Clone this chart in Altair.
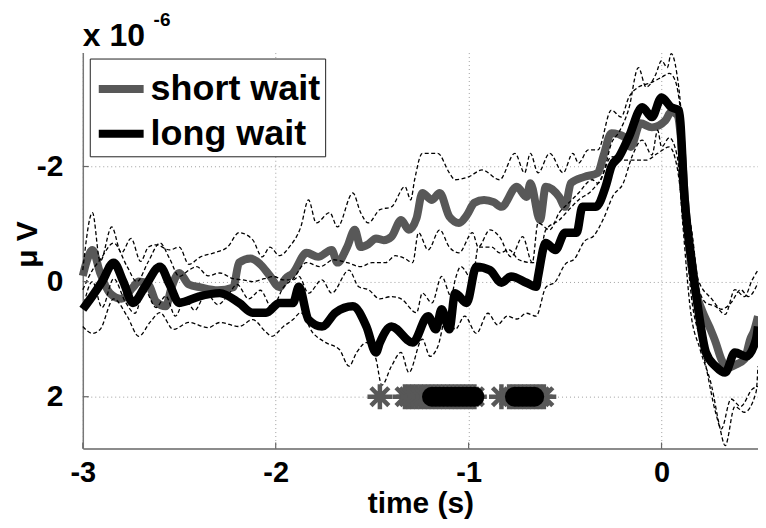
import altair as alt
import pandas as pd

# ---- data (time in s, amplitude in 1e-6 V) ----
SHORT_MEAN = [(-3.00,-0.1),(-2.98,-0.35),(-2.95,-0.55),(-2.91,-0.15),(-2.86,0.2),(-2.80,0.3),(-2.74,0.1),
    (-2.71,0.0),(-2.66,0.05),(-2.62,0.35),(-2.57,0.43),(-2.54,0.1),(-2.50,-0.15),(-2.45,0.05),(-2.39,0.1),
    (-2.30,0.15),(-2.22,0.1),(-2.19,-0.33),(-2.13,-0.4),(-2.08,-0.3),(-2.03,-0.1),(-1.98,0.1),(-1.95,-0.05),
    (-1.91,-0.15),(-1.84,-0.5),(-1.78,-0.43),(-1.71,-0.55),(-1.68,-0.33),(-1.63,-0.6),(-1.59,-0.9),(-1.56,-0.6),
    (-1.52,-0.65),(-1.48,-0.75),(-1.44,-0.72),(-1.40,-0.78),(-1.35,-1.07),(-1.31,-0.9),(-1.27,-1.1),(-1.24,-1.54),
    (-1.19,-1.42),(-1.15,-1.54),(-1.10,-1.13),(-1.05,-1.02),(-1.01,-1.15),(-0.97,-1.37),(-0.92,-1.42),(-0.87,-1.38),
    (-0.83,-1.3),(-0.75,-1.65),(-0.70,-1.47),(-0.68,-1.71),(-0.63,-1.07),(-0.60,-1.65),(-0.53,-1.47),(-0.50,-1.3),
    (-0.47,-1.71),(-0.40,-1.82),(-0.33,-1.89),(-0.30,-2.2),(-0.26,-2.58),(-0.19,-2.51),(-0.16,-2.34),(-0.11,-2.75),
    (-0.05,-2.68),(0.02,-2.8),(0.05,-2.95),(0.08,-2.9),(0.10,-2.5),(0.12,-1.5),(0.15,-0.4),(0.18,0.2),(0.21,0.5),
    (0.25,0.8),(0.28,1.05),(0.31,1.35),(0.34,1.5),(0.38,1.45),(0.43,1.35),(0.46,1.0),(0.48,0.85),(0.50,0.6)]

LONG_MEAN = [(-3.00,0.48),(-2.95,0.25),(-2.90,0.0),(-2.84,-0.33),(-2.79,0.0),(-2.74,0.37),(-2.68,0.1),
    (-2.60,-0.26),(-2.55,0.05),(-2.50,0.37),(-2.40,0.26),(-2.29,0.2),(-2.19,0.37),(-2.12,0.54),(-2.05,0.54),
    (-1.98,0.37),(-1.91,0.37),(-1.88,0.09),(-1.83,0.66),(-1.76,0.78),(-1.69,0.54),(-1.60,0.43),(-1.53,0.78),
    (-1.48,1.23),(-1.46,1.06),(-1.40,0.78),(-1.29,1.06),(-1.21,0.6),(-1.17,0.83),(-1.14,0.48),(-1.10,0.83),
    (-1.07,0.2),(-1.01,0.37),(-0.96,-0.26),(-0.89,-0.2),(-0.83,0.02),(-0.78,-0.09),(-0.70,0.02),(-0.65,0.09),
    (-0.64,-0.09),(-0.60,-0.67),(-0.55,-0.55),(-0.50,-0.85),(-0.44,-0.85),(-0.41,-1.3),(-0.34,-1.3),(-0.29,-1.65),
    (-0.26,-2.0),(-0.22,-2.17),(-0.17,-2.51),(-0.10,-3.03),(-0.05,-2.86),(0.00,-3.2),(0.05,-3.03),(0.09,-2.98),
    (0.12,-1.42),(0.16,-0.26),(0.19,0.48),(0.23,1.23),(0.28,1.47),(0.33,1.58),(0.38,1.23),(0.44,1.3),(0.49,1.0),
    (0.50,0.78)]

SHORT_UPPER = [(-3.00,-0.2),(-2.95,-1.2),(-2.91,-0.35),(-2.85,-0.95),(-2.80,-0.5),(-2.75,-0.75),(-2.70,-0.35),
    (-2.66,-0.6),(-2.62,-0.64),(-2.55,-0.55),(-2.50,-0.6),(-2.45,-0.3),(-2.39,-0.43),(-2.32,-0.5),(-2.25,-0.6),
    (-2.19,-0.85),(-2.12,-0.73),(-2.07,-0.43),(-2.03,-0.6),(-1.98,-0.45),(-1.93,-0.6),(-1.87,-0.95),(-1.83,-1.42),
    (-1.79,-1.02),(-1.72,-1.2),(-1.68,-0.95),(-1.60,-1.54),(-1.56,-1.2),(-1.52,-1.02),(-1.46,-1.25),(-1.40,-1.3),
    (-1.33,-1.65),(-1.30,-1.42),(-1.28,-1.77),(-1.24,-2.23),(-1.16,-2.23),(-1.10,-1.89),(-1.07,-1.77),(-1.00,-1.82),
    (-0.93,-1.94),(-0.84,-1.77),(-0.76,-2.23),(-0.71,-1.89),(-0.68,-2.23),(-0.64,-1.89),(-0.58,-2.23),(-0.51,-1.89),
    (-0.46,-2.23),(-0.43,-2.06),(-0.38,-2.29),(-0.33,-2.29),(-0.26,-2.98),(-0.21,-2.86),(-0.17,-3.2),(-0.12,-3.38),
    (-0.06,-3.45),(0.00,-3.55),(0.04,-3.62),(0.07,-3.5),(0.10,-2.9),(0.13,-1.4),(0.16,-0.43),(0.23,0.37),
    (0.28,0.43),(0.33,0.57),(0.38,0.14),(0.43,0.26),(0.47,-0.03),(0.50,-0.2)]

SHORT_LOWER = [(-3.00,0.48),(-2.95,0.0),(-2.90,0.45),(-2.84,-0.05),(-2.78,0.35),(-2.73,0.55),(-2.68,0.15),
    (-2.62,0.45),(-2.57,0.25),(-2.52,0.6),(-2.47,0.3),(-2.42,0.5),(-2.36,0.2),(-2.30,0.4),(-2.25,0.25),
    (-2.20,0.05),(-2.14,0.3),(-2.08,0.15),(-2.02,0.45),(-1.96,0.1),(-1.91,-0.05),(-1.84,-0.33),(-1.77,-0.26),
    (-1.70,-0.38),(-1.63,-0.33),(-1.56,-0.26),(-1.50,-0.33),(-1.43,-0.33),(-1.38,-0.45),(-1.33,-0.4),
    (-1.29,-0.33),(-1.26,-0.85),(-1.21,-0.55),(-1.15,-0.9),(-1.10,-0.6),(-1.05,-0.5),(-0.98,-0.85),(-0.95,-0.6),
    (-0.89,-0.9),(-0.84,-0.78),(-0.78,-0.43),(-0.72,-0.78),(-0.67,-0.33),(-0.64,-1.02),(-0.58,-0.9),(-0.53,-1.2),
    (-0.48,-1.37),(-0.43,-1.54),(-0.36,-1.77),(-0.33,-1.71),(-0.26,-2.17),(-0.19,-2.11),(-0.08,-2.11),
    (-0.02,-2.23),(0.04,-2.34),(0.08,-2.0),(0.12,-0.9),(0.16,0.4),(0.20,1.0),(0.23,1.47),(0.28,2.27),
    (0.31,2.56),(0.36,2.04),(0.41,2.17),(0.47,1.87),(0.50,1.82)]

LONG_UPPER = [(-3.00,0.14),(-2.95,-0.2),(-2.91,-0.38),(-2.84,-0.67),(-2.77,-0.26),(-2.72,0.0),(-2.66,-0.35),
    (-2.60,-0.67),(-2.55,-0.4),(-2.50,-0.09),(-2.45,-0.2),(-2.41,-0.26),(-2.35,-0.1),(-2.29,-0.15),(-2.22,-0.05),
    (-2.17,-0.03),(-2.12,0.0),(-2.06,-0.05),(-2.01,-0.09),(-1.96,-0.03),(-1.91,-0.03),(-1.88,-0.09),(-1.83,0.2),
    (-1.76,-0.03),(-1.71,0.2),(-1.62,-0.2),(-1.57,0.09),(-1.52,0.14),(-1.46,0.3),(-1.40,0.26),(-1.35,0.3),
    (-1.27,0.54),(-1.24,0.2),(-1.19,0.37),(-1.14,-0.09),(-1.09,0.26),(-1.07,-0.03),(-1.04,-0.26),(-0.98,-0.03),
    (-0.95,-0.6),(-0.88,-0.6),(-0.84,-0.5),(-0.79,-0.55),(-0.74,-0.38),(-0.67,-0.33),(-0.64,-0.33),(-0.60,-0.9),
    (-0.53,-1.07),(-0.48,-1.25),(-0.43,-1.42),(-0.36,-1.59),(-0.30,-1.9),(-0.26,-2.4),(-0.22,-2.6),(-0.17,-3.0),
    (-0.12,-3.72),(-0.08,-3.38),(-0.03,-3.6),(0.00,-3.84),(0.03,-3.72),(0.05,-3.96),(0.08,-3.6),(0.10,-3.0),
    (0.12,-1.8),(0.16,-0.8),(0.19,-0.03),(0.26,0.3),(0.31,0.48),(0.36,0.37),(0.41,0.14),(0.45,0.26),(0.50,0.02)]

LONG_LOWER = [(-3.00,0.78),(-2.95,0.9),(-2.91,0.83),(-2.84,0.3),(-2.77,0.6),(-2.71,0.95),(-2.65,0.7),
    (-2.60,0.54),(-2.53,0.83),(-2.45,0.71),(-2.35,0.8),(-2.29,0.71),(-2.19,0.78),(-2.12,0.66),(-2.05,0.88),
    (-2.02,0.95),(-1.96,0.78),(-1.91,0.66),(-1.87,0.54),(-1.81,0.88),(-1.74,1.06),(-1.67,1.18),(-1.62,1.47),
    (-1.58,1.23),(-1.53,1.06),(-1.48,1.35),(-1.45,1.8),(-1.40,1.47),(-1.35,1.23),(-1.31,1.58),(-1.24,1.0),
    (-1.20,1.3),(-1.16,1.13),(-1.11,0.54),(-1.07,0.83),(-1.02,0.6),(-0.96,0.9),(-0.90,0.55),(-0.85,0.75),
    (-0.80,0.6),(-0.75,0.65),(-0.70,0.55),(-0.65,0.6),(-0.60,0.1),(-0.55,0.0),(-0.50,-0.3),(-0.45,-0.4),
    (-0.40,-0.7),(-0.35,-0.8),(-0.30,-1.1),(-0.25,-1.5),(-0.20,-1.7),(-0.15,-2.2),(-0.10,-2.46),(-0.05,-2.2),
    (-0.02,-2.63),(0.00,-2.34),(0.04,-2.5),(0.08,-2.2),(0.11,-1.0),(0.15,0.5),(0.20,1.18),(0.26,1.82),
    (0.30,2.5),(0.33,2.85),(0.38,2.17),(0.43,2.27),(0.49,1.92),(0.50,1.47)]

SIG_SHORT_T = [-1.46,-1.33,-1.31,-1.29,-1.27,-1.25,-1.23,-1.21,-1.19,-1.17,-1.15,-1.13,-1.11,-1.09,-1.07,
    -1.05,-1.03,-1.01,-0.99,-0.97,-0.83,-0.79,-0.77,-0.75,-0.73,-0.71,-0.69,-0.67,-0.65,-0.63,-0.61]
SIG_LONG_T = [-1.19,-1.17,-1.15,-1.13,-1.11,-1.09,-1.07,-1.05,-1.03,-1.01,-0.99,-0.97,
    -0.76,-0.74,-0.72,-0.70,-0.68,-0.66]
SIG_LEVEL = 2.0

CONDITIONS = ["short wait", "long wait"]
COLORS = ["#585858", "#000000"]
X_TICKS = [-3, -2, -1, 0]
Y_TICKS = [-2, 0, 2]
X_DOMAIN = [-3, 0.5]
Y_DOMAIN = [-3.98, 2.9]

FONT = "Liberation Sans"

# ---- tables ----
def pairs_df(pairs, name):
    return pd.DataFrame({"t": [p[0] for p in pairs], "v": [p[1] for p in pairs], "s": name})

means = pd.concat([pairs_df(SHORT_MEAN, "short wait"), pairs_df(LONG_MEAN, "long wait")])
bands = pd.concat([pairs_df(SHORT_UPPER, "su"), pairs_df(SHORT_LOWER, "sl"),
                   pairs_df(LONG_UPPER, "lu"), pairs_df(LONG_LOWER, "ll")])
sig_s = pd.DataFrame({"t": SIG_SHORT_T, "v": SIG_LEVEL})
sig_l = pd.DataFrame({"t": SIG_LONG_T, "v": SIG_LEVEL})
xt = pd.DataFrame({"t": X_TICKS})
yt = pd.DataFrame({"v": Y_TICKS})
one = pd.DataFrame({"t": [0.0], "v": [0.0]})

xs = alt.Scale(domain=X_DOMAIN, nice=False, zero=False)
ys = alt.Scale(domain=Y_DOMAIN, nice=False, zero=False, reverse=True)

axis_style = dict(labelFont=FONT, labelFontWeight="bold", labelColor="black",
                  titleFont=FONT, titleFontSize=30, titleFontWeight="bold", titleColor="black",
                  grid=True, gridDash=[1, 3], gridColor="#a0a0a0", gridWidth=1, ticks=False,
                  labelExpr="'' + datum.value", domainWidth=1.5, labelFlush=False)
x_axis = alt.Axis(values=X_TICKS, title="time (s)", labelPadding=10, labelFontSize=29,
                  titleY=64, titleBaseline="alphabetic",
                  domainColor="#666666", **axis_style)
y_axis = alt.Axis(values=Y_TICKS, title="μ V", labelPadding=20, labelFontSize=30,
                  titleX=-46, titleY=192, titleBaseline="alphabetic", titleAngle=270,
                  domainColor="#777777", **axis_style)

X = alt.X("t:Q", scale=xs, axis=x_axis)
Y = alt.Y("v:Q", scale=ys, axis=y_axis)

legend = alt.Legend(title=None, orient="none", legendX=7, legendY=6,
                    symbolType="stroke", symbolStrokeWidth=8, symbolSize=2025, symbolOffset=1,
                    labelFontSize=36, labelFont=FONT, labelFontWeight="bold", labelColor="black",
                    labelOffset=3, rowPadding=0, padding=4,
                    strokeColor="#222222", fillColor="white", labelLimit=400)
color = alt.Color("s:N", scale=alt.Scale(domain=CONDITIONS, range=COLORS), legend=legend)

short_line = alt.Chart(means).transform_filter(alt.datum.s == "short wait").mark_line(
    strokeWidth=8, strokeJoin="round", interpolate="monotone").encode(x=X, y=Y, color=color)
long_line = alt.Chart(means).transform_filter(alt.datum.s == "long wait").mark_line(
    strokeWidth=8.5, strokeJoin="round", interpolate="monotone").encode(x=X, y=Y, color=color)

band_lines = alt.Chart(bands).mark_line(strokeWidth=1.3, strokeDash=[4, 2.5], color="black",
                                        interpolate="monotone").encode(x=X, y=Y, detail="s:N")

ASTERISK = "M-1,0L1,0M0,-1L0,1M-0.72,-0.72L0.72,0.72M-0.72,0.72L0.72,-0.72"
sig_short = alt.Chart(sig_s).mark_point(shape=ASTERISK, size=620, strokeWidth=4.5, color=COLORS[0],
                                         filled=False, opacity=1).encode(x=X, y=Y)
sig_long = alt.Chart(sig_l).mark_point(shape="circle", size=400, color="black", filled=True,
                                        opacity=1, strokeWidth=0).encode(x=X, y=Y)

x_ticks = alt.Chart(xt).mark_rule(color="#666666", strokeWidth=1.2).encode(
    x=X, y=alt.value(397), y2=alt.value(391))
y_ticks = alt.Chart(yt).mark_rule(color="#666666", strokeWidth=1.2).encode(
    y=Y, x=alt.value(0), x2=alt.value(6))

mult = alt.Chart(one).mark_text(align="left", baseline="alphabetic", fontSize=32, fontWeight="bold",
                                font=FONT, color="black").encode(x=alt.value(0), y=alt.value(-7),
                                                                 text=alt.value("x 10"))
expo = alt.Chart(one).mark_text(align="left", baseline="alphabetic", fontSize=19, fontWeight="bold",
                                font=FONT, color="black").encode(x=alt.value(71), y=alt.value(-27),
                                                                 text=alt.value("-6"))

chart = alt.layer(short_line, long_line, band_lines, sig_short, sig_long,
                  x_ticks, y_ticks, mult, expo).properties(
    width=677, height=397,
    padding={"left": 75, "top": 44, "right": 0, "bottom": 71},
    autosize=alt.AutoSizeParams(type="none"),
    background="white",
).configure_view(stroke=None)

chart.save("out.html", embed_options={"renderer": "svg", "actions": False})
